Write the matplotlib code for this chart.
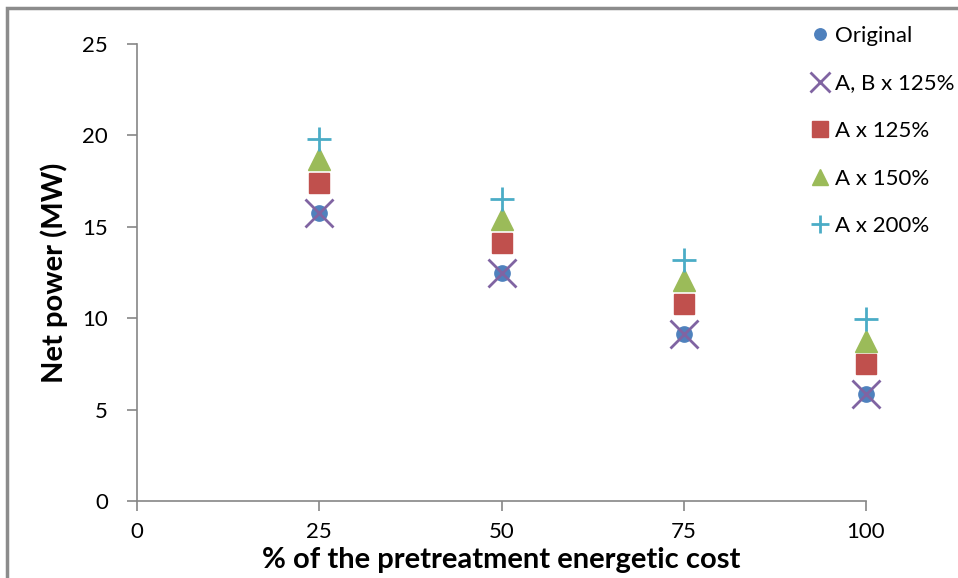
import matplotlib.pyplot as plt
from matplotlib.patches import Rectangle

# % of pretreatment energetic cost
cost = [25, 50, 75, 100]

original = [15.75, 12.45, 9.15, 5.85]
ab125 = [15.75, 12.45, 9.15, 5.85]
a125 = [17.4, 14.1, 10.8, 7.5]
a150 = [18.7, 15.4, 12.1, 8.75]
a200 = [19.8, 16.5, 13.2, 9.95]

labels = ["Original", "A, B x 125%", "A x 125%", "A x 150%", "A x 200%"]

plt.rcParams['font.family'] = ['Lato', 'DejaVu Sans']

fig = plt.figure(figsize=(9.58, 5.78), dpi=100)
ax = fig.add_axes([137/958, 1 - 501/578, (866 - 137)/958, (501 - 44)/578])

# outer chart frame
fig.patches.append(Rectangle((7/958, -0.1), 1.2, 1 - 8/578 + 0.1, transform=fig.transFigure,
                             fill=False, edgecolor='#8c8c8c', linewidth=2.5))

kw = dict(linestyle='none', clip_on=False)
ax.plot(cost, original, 'o', color='#4F81BD', ms=11, label=labels[0], zorder=3, **kw)
ax.plot(cost, ab125, 'x', color='#8064A2', ms=20, mew=2, label=labels[1], zorder=4, **kw)
ax.plot(cost, a125, 's', color='#C0504D', ms=15, label=labels[2], zorder=3, **kw)
ax.plot(cost, a150, '^', color='#9BBB59', ms=16, label=labels[3], zorder=3, **kw)
ax.plot(cost, a200, '+', color='#4BACC6', ms=17, mew=2, label=labels[4], zorder=3, **kw)

ax.set_xlim(0, 100)
ax.set_ylim(0, 25)
ax.set_xticks([0, 25, 50, 75, 100])
ax.set_yticks([0, 5, 10, 15, 20, 25])
ax.spines['top'].set_visible(False)
ax.spines['right'].set_visible(False)
for s in ['left', 'bottom']:
    ax.spines[s].set_color('#868686')
    ax.spines[s].set_linewidth(1.2)
ax.tick_params(direction='out', length=7, width=1.2, color='#868686', labelsize=16, pad=8)
ax.tick_params(axis='y', pad=14)

ax.set_xlabel("% of the pretreatment energetic cost", fontsize=21, fontweight='bold', labelpad=4)
ax.set_ylabel("Net power (MW)", fontsize=21, fontweight='bold', labelpad=10)

leg = ax.legend(loc='upper left', bbox_to_anchor=(802/958, 1 - 17/578), bbox_transform=fig.transFigure,
                frameon=False, fontsize=16, labelspacing=1.24, handlelength=0.8, handletextpad=0.3,
                markerscale=0.75, borderaxespad=0)

fig.savefig("out.png", dpi=100)
